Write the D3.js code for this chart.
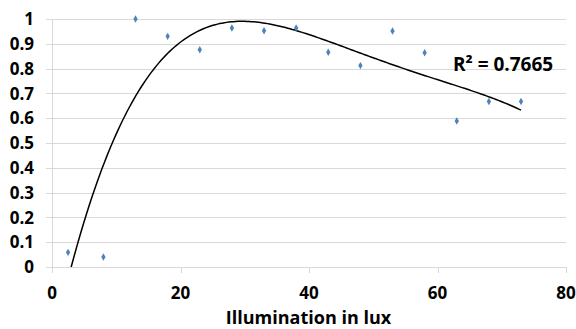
<!DOCTYPE html>
<html><head><meta charset="utf-8">
<script src="https://cdn.jsdelivr.net/npm/d3@7"></script>
<style>body{margin:0;background:#fff}svg{display:block}</style>
</head><body>
<svg id="c" width="576" height="329"></svg>
<script>
const illumination = [2.5, 8, 13, 18, 23, 28, 33, 38, 43, 48, 53, 58, 63, 68, 73];
const response = [0.059, 0.040, 1.0, 0.930, 0.876, 0.964, 0.953, 0.964, 0.866, 0.812, 0.952, 0.864, 0.589, 0.667, 0.667];
const xTicks = [0, 20, 40, 60, 80];
const yTicks = [0, 0.1, 0.2, 0.3, 0.4, 0.5, 0.6, 0.7, 0.8, 0.9, 1];
const xTitle = "Illumination in lux";
const r2Label = "R² = 0.7665";
const trendOrder = 4;

function polyfit(xs, ys, order) {
  const n = order + 1;
  const A = Array.from({length: n}, () => new Array(n + 1).fill(0));
  xs.forEach((x, k) => {
    for (let i = 0; i < n; i++) {
      for (let j = 0; j < n; j++) A[i][j] += Math.pow(x, i + j);
      A[i][n] += ys[k] * Math.pow(x, i);
    }
  });
  for (let i = 0; i < n; i++) {
    let p = i;
    for (let r = i + 1; r < n; r++) if (Math.abs(A[r][i]) > Math.abs(A[p][i])) p = r;
    [A[i], A[p]] = [A[p], A[i]];
    for (let r = 0; r < n; r++) if (r !== i) {
      const f = A[r][i] / A[i][i];
      for (let c = i; c <= n; c++) A[r][c] -= f * A[i][c];
    }
  }
  return A.map((row, i) => row[n] / row[i]);
}
const evalPoly = (c, x) => c.reduce((s, v, i) => s + v * Math.pow(x, i), 0);

const svg = d3.select("#c");
const x = d3.scaleLinear().domain([0, 80]).range([52, 566]);
const y = d3.scaleLinear().domain([0, 1]).range([267, 19]);
const font = "'Open Sans', sans-serif";

svg.append("g").selectAll("line").data(yTicks).join("line")
  .attr("x1", 46).attr("x2", 566)
  .attr("y1", d => Math.round(y(d)) + 0.5).attr("y2", d => Math.round(y(d)) + 0.5)
  .attr("stroke", "#d9d9d9").attr("stroke-width", 1);
svg.append("line").attr("x1", 52.5).attr("x2", 52.5).attr("y1", 19).attr("y2", 267)
  .attr("stroke", "#d9d9d9");
svg.append("g").selectAll("line").data(xTicks).join("line")
  .attr("x1", d => Math.round(x(d)) + 0.5).attr("x2", d => Math.round(x(d)) + 0.5)
  .attr("y1", 267).attr("y2", 273).attr("stroke", "#d9d9d9");

svg.append("g").selectAll("text").data(yTicks).join("text")
  .attr("x", 34).attr("y", d => y(d)).attr("dy", "0.36em")
  .attr("text-anchor", "end").attr("font-family", font).attr("font-weight", 700)
  .attr("font-size", 17).attr("fill", "#000").text(d => d3.format("")(d));
svg.append("g").selectAll("text").data(xTicks).join("text")
  .attr("x", d => x(d)).attr("y", 299)
  .attr("text-anchor", "middle").attr("font-family", font).attr("font-weight", 700)
  .attr("font-size", 17).attr("fill", "#000").text(d => d);
svg.append("text").attr("x", 308.5).attr("y", 323.5).attr("text-anchor", "middle")
  .attr("font-family", font).attr("font-weight", 700).attr("font-size", 18).text(xTitle);

svg.append("clipPath").attr("id", "plot").append("rect")
  .attr("x", 52).attr("y", 0).attr("width", 514).attr("height", 267);

const coef = polyfit(illumination, response, trendOrder);
const [xmin, xmax] = d3.extent(illumination);
const xs = d3.range(0, 201).map(i => xmin + i * (xmax - xmin) / 200);
svg.append("path").attr("clip-path", "url(#plot)")
  .attr("d", d3.line().x(d => x(d)).y(d => y(evalPoly(coef, d)))(xs))
  .attr("fill", "none").attr("stroke", "#000").attr("stroke-width", 1.5);

svg.append("g").selectAll("path").data(illumination).join("path")
  .attr("transform", (d, i) => `translate(${x(d)},${y(response[i])})`)
  .attr("d", d3.symbol(d3.symbolDiamond, 16)).attr("fill", "#4f81bd");

svg.append("text").attr("x", 453).attr("y", 71).attr("font-family", font)
  .attr("font-weight", 700).attr("font-size", 19).text(r2Label);
</script>
</body></html>
